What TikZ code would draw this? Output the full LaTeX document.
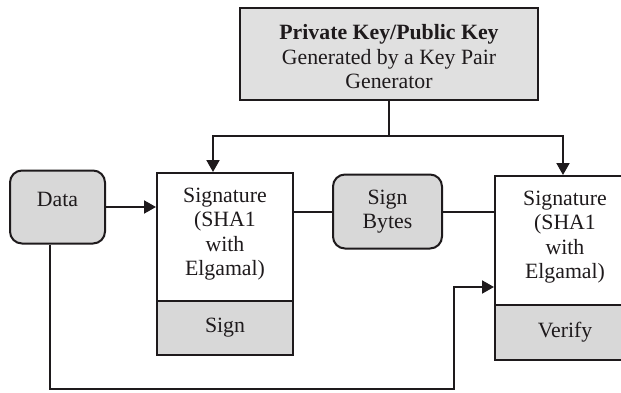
\documentclass[tikz,border=0pt]{standalone}
\usepackage{fontspec}
\setmainfont{Liberation Serif}
\usetikzlibrary{arrows.meta}
\definecolor{ink}{HTML}{1E1A1C}
\definecolor{boxgray}{HTML}{D8D8D8}
\definecolor{topgray}{HTML}{E0E0E0}
\begin{document}
\begin{tikzpicture}[x=1pt,y=-1pt,
  every node/.style={font=\fontsize{21.8}{24.5}\selectfont, text=ink, align=center, inner sep=0pt},
  box/.style={draw=ink, line width=2pt},
  graybox/.style={box, fill=boxgray},
  roundbox/.style={box, fill=boxgray, rounded corners=12pt},
  conn/.style={draw=ink, line width=2pt},
  arr/.style={conn, -{Triangle[length=12pt,width=13pt]}}]
\useasboundingbox (0,0) rectangle (621,393);
\clip (0,0) rectangle (621,393);
\fill[white] (0,0) rectangle (621,393);
% nodes
\node[box, fill=topgray, minimum width=298pt, minimum height=92pt] (top) at (389,54) {};
\node (toptext) at (389,57) {\textbf{Private Key/Public Key}\\Generated by a Key Pair\\Generator};
\node[roundbox, minimum width=95pt, minimum height=73pt] (data) at (57.5,207) {};
\node (datatext) at (57.5,199) {Data};
\node[box, fill=white, minimum width=136pt, minimum height=128pt] (sigA) at (225,237) {};
\node (sigAtext) at (225,234) {Signature\\(SHA1\\with\\Elgamal)};
\node[graybox, minimum width=136pt, minimum height=54pt] (sigB) at (225,328) {Sign};
\node[roundbox, minimum width=109pt, minimum height=74pt] (bytes) at (387.5,211.5) {Sign\\Bytes};
\node[box, fill=white, minimum width=140pt, minimum height=129pt] (verA) at (565,240.5) {};
\node (verAtext) at (565,237) {Signature\\(SHA1\\with\\Elgamal)};
\node[graybox, minimum width=140pt, minimum height=55pt] (verB) at (565,332.5) {Verify};
% connectors
\coordinate (j) at (389,136);
\draw[conn] (top.south) -- (j);
\draw[arr] (j) -| ([xshift=-12]sigA.north);
\draw[arr] (j) -| ([xshift=-2]verA.north);
\draw[arr] (data.east) -- (data.east -| sigA.west);
\draw[conn] (sigA.east |- bytes.west) -- (bytes.west);
\draw[conn] (bytes.east) -- (bytes.east -| verA.west);
\coordinate (b2) at (454,389);
\coordinate (vin) at (verA.west |- 0,287);
\draw[arr] ([xshift=-7.5]data.south) |- (b2) |- (vin);
\end{tikzpicture}
\end{document}
